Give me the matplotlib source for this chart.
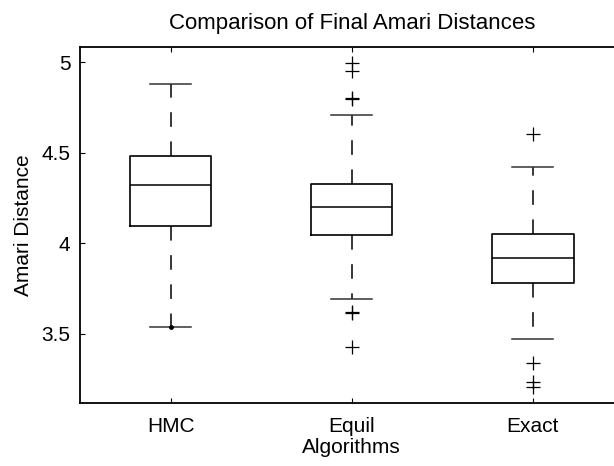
import numpy as np
import matplotlib
matplotlib.use("Agg")
import matplotlib.pyplot as plt

plt.rcParams['font.family'] = ['Liberation Sans', 'DejaVu Sans']
plt.rcParams['lines.scale_dashes'] = False

# values
algorithms = ["HMC", "Equil", "Exact"]
q1 = [4.094, 4.048, 3.782]
med = [4.320, 4.199, 3.917]
q3 = [4.481, 4.329, 4.053]
whislo = [3.538, 3.692, 3.473]
whishi = [4.878, 4.709, 4.420]
fliers = [
    [],
    [4.998, 4.954, 4.803, 4.798, 3.622, 3.612, 3.425],
    [4.605, 3.337, 3.236, 3.208],
]
hmc_dot = [3.538]

stats = []
for i, name in enumerate(algorithms):
    stats.append(dict(label=name, q1=q1[i], med=med[i], q3=q3[i],
                      whislo=whislo[i], whishi=whishi[i], fliers=fliers[i]))

fig = plt.figure(figsize=(6.14, 4.66), dpi=100)
ax = fig.add_axes([0.1303, 0.1358, 0.885, 0.764])

ax.bxp(stats, positions=[1, 2, 3], widths=0.45, showfliers=True,
       boxprops=dict(color='black', linewidth=1.2),
       medianprops=dict(color='black', linewidth=1.1),
       whiskerprops=dict(color='black', linewidth=1.1, linestyle=(0, (10.5, 10.5))),
       capprops=dict(color='#333333', linewidth=1.1),
       flierprops=dict(marker='+', markersize=10, markeredgecolor='black',
                       markeredgewidth=0.9, linestyle='none'))
ax.plot([1] * len(hmc_dot), hmc_dot, '.', color='black', markersize=5)

ax.set_xlim(0.5, 3.5)
ax.set_ylim(3.119, 5.086)
ax.set_yticks([3.5, 4, 4.5, 5])
ax.set_yticklabels(["3.5", "4", "4.5", "5"])
ax.tick_params(direction='in', length=3.5, width=0.8, top=True, right=True,
               labelsize=15)
ax.tick_params(axis='y', pad=7)
ax.tick_params(axis='x', pad=10)
for s in ax.spines.values():
    s.set_linewidth(1.3)

ax.set_title("Comparison of Final Amari Distances", fontsize=16, pad=13)
ax.set_xlabel("Algorithms", fontsize=15, labelpad=2)
ax.set_ylabel("Amari Distance", fontsize=15, labelpad=6)

fig.savefig("out.png", dpi=100)
